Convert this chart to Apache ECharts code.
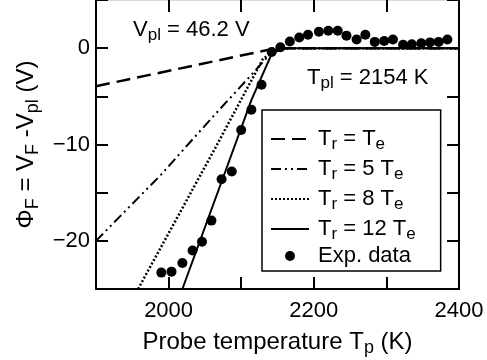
<!DOCTYPE html>
<html>
<head>
<meta charset="utf-8">
<script src="https://cdn.jsdelivr.net/npm/echarts@6/dist/echarts.min.js"></script>
<style>
  html, body { margin: 0; padding: 0; background: #fff; }
  #main { width: 487px; height: 360px; }
</style>
</head>
<body>
<div id="main"></div>
<script>
// model curves
const teX = [1900, 2145, 2165, 2400];
const teY = [-3.95, -0.05, 0, 0];
const te5X = [1900, 1990, 2060, 2110, 2140, 2160, 2400];
const te5Y = [-20, -13.1, -7.2, -3.1, -0.6, 0, 0];
const te8X = [1958, 2064, 2130, 2150, 2165, 2400];
const te8Y = [-25, -10.4, -1.1, -0.1, 0, 0];
const te12X = [2019, 2098, 2114, 2142, 2150, 2165, 2400];
const te12Y = [-25, -8.7, -5.4, -0.6, -0.15, 0, 0];

// experimental points
const expT = [1990, 2004, 2019, 2033, 2046, 2059, 2073, 2087, 2100, 2114, 2128, 2142, 2154,
  2167, 2180, 2192, 2207, 2220, 2233, 2245, 2259, 2271, 2284, 2297, 2309, 2323, 2335, 2348,
  2360, 2372, 2384];
const expV = [-23.3, -23.2, -22.3, -21.0, -20.1, -17.9, -13.6, -12.8, -8.5, -6.4, -3.8, -0.4, 0.1,
  0.7, 1.1, 1.4, 1.7, 1.8, 1.8, 1.3, 0.9, 1.4, 0.65, 0.75, 0.9, 0.35, 0.4, 0.5,
  0.6, 0.65, 0.9];

const xTickLabels = [2000, 2200, 2400];
const yTickLabels = [0, -10, -20];

const seriesNames = ["Tr = Te", "Tr = 5 Te", "Tr = 8 Te", "Tr = 12 Te", "Exp. data"];
const legendRich = {
  "Tr = Te": "{m|T}{s|r}{m| = T}{s|e}",
  "Tr = 5 Te": "{m|T}{s|r}{m| = 5 T}{s|e}",
  "Tr = 8 Te": "{m|T}{s|r}{m| = 8 T}{s|e}",
  "Tr = 12 Te": "{m|T}{s|r}{m| = 12 T}{s|e}",
  "Exp. data": "{m|Exp. data}",
};

const zip = (a, b) => a.map((v, i) => [v, b[i]]);
const FONT = "Liberation Sans";
const rich = {
  m: { fontSize: 22, fontFamily: FONT, color: "#000", lineHeight: 24 },
  s: { fontSize: 17, fontFamily: FONT, color: "#000", lineHeight: 24, padding: [11, 0, 0, 0] },
};
const richBig = {
  m: { fontSize: 24, fontFamily: FONT, color: "#000", lineHeight: 27 },
  s: { fontSize: 18, fontFamily: FONT, color: "#000", lineHeight: 27, padding: [12, 0, 0, 0] },
};
const minus = (v) => (v < 0 ? "\u2212" + Math.abs(v) : String(v));

const tick = { inside: true, length: 12, lineStyle: { color: "#000", width: 2 } };
const axisCommon = {
   axisLine: { onZero: false, lineStyle: { color: "#000", width: 2 } },
   axisTick: tick,
   splitLine: { show: false },
};

const myChart = echarts.init(document.getElementById("main"));

const lineSeries = (name, data, type, width) => ({
   name,
   type: "line",
   data,
   symbol: "none",
   z: 3,
   lineStyle: { color: "#000", width, type },
   itemStyle: { color: "#000" },
});

const option = {
   backgroundColor: "#fff",
   animation: false,
   grid: { left: 96, right: 28, top: 0, bottom: 71, outerBoundsMode: "none" },
   xAxis: [
      {
         ...axisCommon,
         type: "value",
         position: "bottom",
         min: 1900,
         max: 2400,
         interval: 100,
         axisLabel: {
            color: "#000",
            fontSize: 22,
            fontFamily: FONT,
            margin: 11,
            formatter: (v) => (xTickLabels.includes(v) ? String(v) : ""),
         },
         name: "{m|Probe temperature T}{s|p}{m| (K)}",
         nameLocation: "middle",
         nameGap: 35,
         nameTextStyle: { rich: richBig },
      },
      {
         ...axisCommon,
         type: "value",
         position: "top",
         min: 1900,
         max: 2400,
         interval: 100,
         axisLine: { onZero: false, lineStyle: { color: "#d8d8d8", width: 1 } },
         axisLabel: { show: false },
      },
   ],
   yAxis: [
      {
         ...axisCommon,
         type: "value",
         position: "left",
         min: -25,
         max: 5,
         interval: 5,
         axisLabel: {
            color: "#000",
            fontSize: 22,
            fontFamily: FONT,
            margin: 6,
            formatter: (v) => (yTickLabels.includes(v) ? minus(v) : ""),
         },
         name: "{m|\u03A6}{s|F}{m| = V}{s|F}{m| -V}{s|pl}{m| (V)}",
         nameLocation: "middle",
         nameRotate: 90,
         nameGap: 52,
         nameTextStyle: { rich: richBig },
      },
      {
         ...axisCommon,
         type: "value",
         position: "right",
         min: -25,
         max: 5,
         interval: 5,
         axisLabel: { show: false },
      },
   ],
   legend: {
      orient: "vertical",
      left: 262,
      top: 110,
      selectedMode: false,
      backgroundColor: "#fff",
      borderColor: "#000",
      borderWidth: 1.5,
      borderRadius: 0,
      padding: [15, 25, 4, 8],
      itemWidth: 38,
      itemHeight: 10,
      itemGap: 2,
      data: seriesNames.map((n, i) =>
         i < 4 ? { name: n, itemStyle: { opacity: 0 } } : { name: n }
      ),
      formatter: (name) => legendRich[name],
      textStyle: { rich, padding: [0, 0, 0, 4] },
   },
   graphic: [
      {
         type: "text",
         left: 133,
         top: 16,
         style: { text: "{m|V}{s|pl}{m| = 46.2 V}", rich },
      },
      {
         type: "text",
         left: 307,
         top: 64,
         style: { text: "{m|T}{s|pl}{m| = 2154 K}", rich },
      },
   ],
   series: [
      lineSeries(seriesNames[0], zip(teX, teY), [14, 7], 2.5),
      lineSeries(seriesNames[1], zip(te5X, te5Y), [10, 4, 2, 4, 2, 4], 2),
      lineSeries(seriesNames[2], zip(te8X, te8Y), [2, 2], 2.5),
      lineSeries(seriesNames[3], zip(te12X, te12Y), "solid", 2),
      {
         name: seriesNames[4],
         type: "scatter",
         data: zip(expT, expV),
         symbol: "circle",
         symbolSize: 10,
         z: 4,
         itemStyle: { color: "#000", opacity: 1 },
      },
   ],
};

option && myChart.setOption(option);
</script>
</body>
</html>
